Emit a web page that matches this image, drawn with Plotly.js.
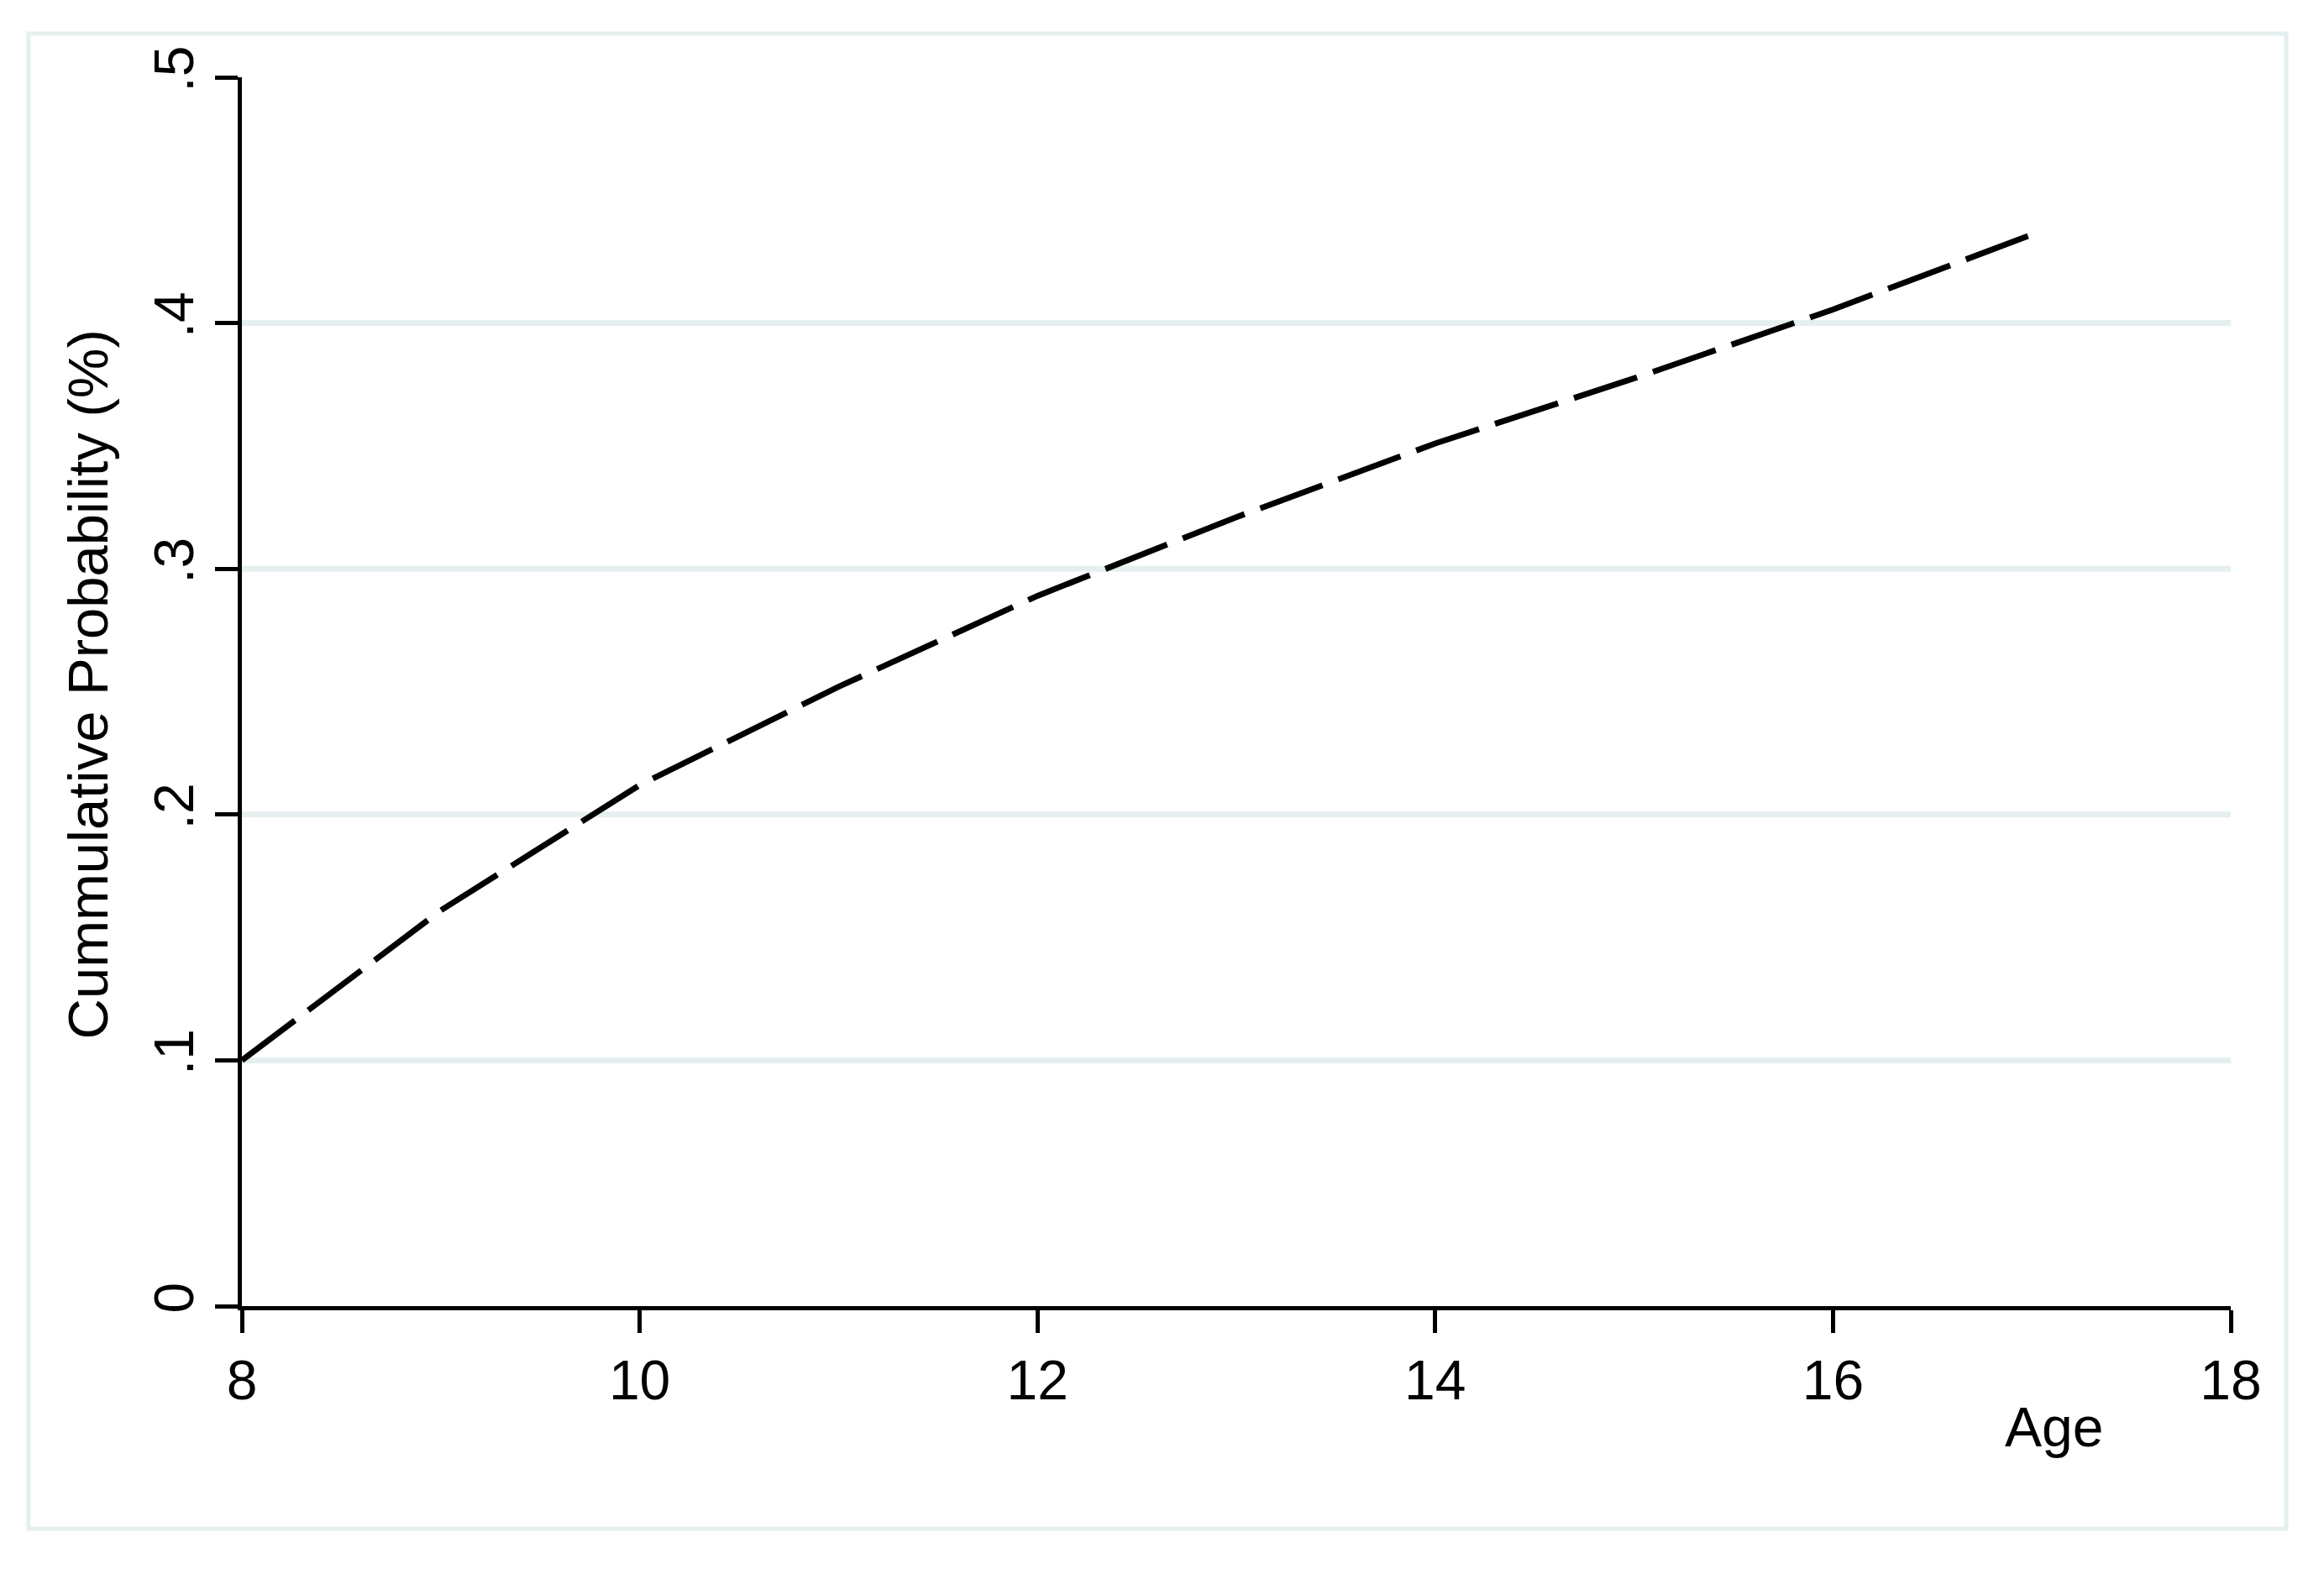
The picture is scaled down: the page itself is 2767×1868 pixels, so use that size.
<!DOCTYPE html>
<html>
<head>
<meta charset="utf-8">
<script src="https://cdn.plot.ly/plotly-3.0.1.min.js"></script>
<style>
  html, body { margin: 0; padding: 0; background: #ffffff; }
  #chart { width: 2767px; height: 1868px; }
</style>
</head>
<body>
<div id="chart"></div>
<script>
// values
var ages = [8, 9, 10, 11, 12, 13, 14, 15, 16, 17];
var cumProb = [0.100, 0.161, 0.212, 0.252, 0.289, 0.321, 0.351, 0.3775, 0.4055, 0.436];

var xTickVals = [8, 10, 12, 14, 16, 18];
var yTickVals = [0, 0.1, 0.2, 0.3, 0.4, 0.5];
var yTickText = ['0', '.1', '.2', '.3', '.4', '.5'];
var gridVals = [0.1, 0.2, 0.3, 0.4];

var fontFam = '"Liberation Sans", Arial, Helvetica, sans-serif';
var gridColor = '#e5eff0';

var trace = {
    x: ages,
    y: cumProb,
    type: 'scatter',
    mode: 'lines',
    line: { color: '#000000', width: 7, dash: '79px,20px' },
    hoverinfo: 'skip',
    showlegend: false
};

// horizontal grid lines only at the inner ticks
var shapes = gridVals.map(v => ({
    type: 'line', xref: 'x', yref: 'y', layer: 'below',
    x0: 8, x1: 18, y0: v, y1: v,
    line: { color: gridColor, width: 7 }
}));

// light frame round the whole graph
shapes.push({
    type: 'rect', xref: 'paper', yref: 'paper', layer: 'below',
    x0: -0.1073, x1: 1.0279, y0: -0.1811, y1: 1.0355,
    line: { color: gridColor, width: 5 }
});

var layout = {
    width: 2767,
    height: 1868,
    margin: { l: 288, r: 111, t: 92, b: 313 },
    paper_bgcolor: '#ffffff',
    plot_bgcolor: '#ffffff',
    font: { family: fontFam, size: 66, color: '#000000' },
    xaxis: {
        range: [8, 18],
        tickvals: xTickVals,
        ticks: 'outside',
        ticklen: 27,
        tickwidth: 5,
        tickcolor: '#000000',
        showline: true,
        linecolor: '#000000',
        linewidth: 5,
        showgrid: false,
        zeroline: false,
        tickfont: { family: fontFam, size: 66, color: '#000000' }
    },
    yaxis: {
        range: [0, 0.5],
        tickvals: yTickVals,
        ticktext: yTickText,
        tickangle: -90,
        ticks: 'outside',
        ticklen: 27,
        tickwidth: 5,
        tickcolor: '#000000',
        showline: true,
        linecolor: '#000000',
        linewidth: 5,
        showgrid: false,
        zeroline: false,
        tickfont: { family: fontFam, size: 66, color: '#000000' }
    },
    shapes: shapes,
    annotations: [
        {
            text: 'Age', xref: 'paper', yref: 'paper',
            x: 0.9113, y: -0.0984, xanchor: 'center', yanchor: 'middle',
            showarrow: false, font: { family: fontFam, size: 66, color: '#000000' }
        },
        {
            text: 'Cummulative Probability (%)', xref: 'paper', yref: 'paper',
            x: -0.0775, y: 0.5058, xanchor: 'center', yanchor: 'middle',
            textangle: -90,
            showarrow: false, font: { family: fontFam, size: 67, color: '#000000' }
        }
    ]
};

Plotly.newPlot('chart', [trace], layout, { staticPlot: true, displayModeBar: false });
</script>
</body>
</html>
